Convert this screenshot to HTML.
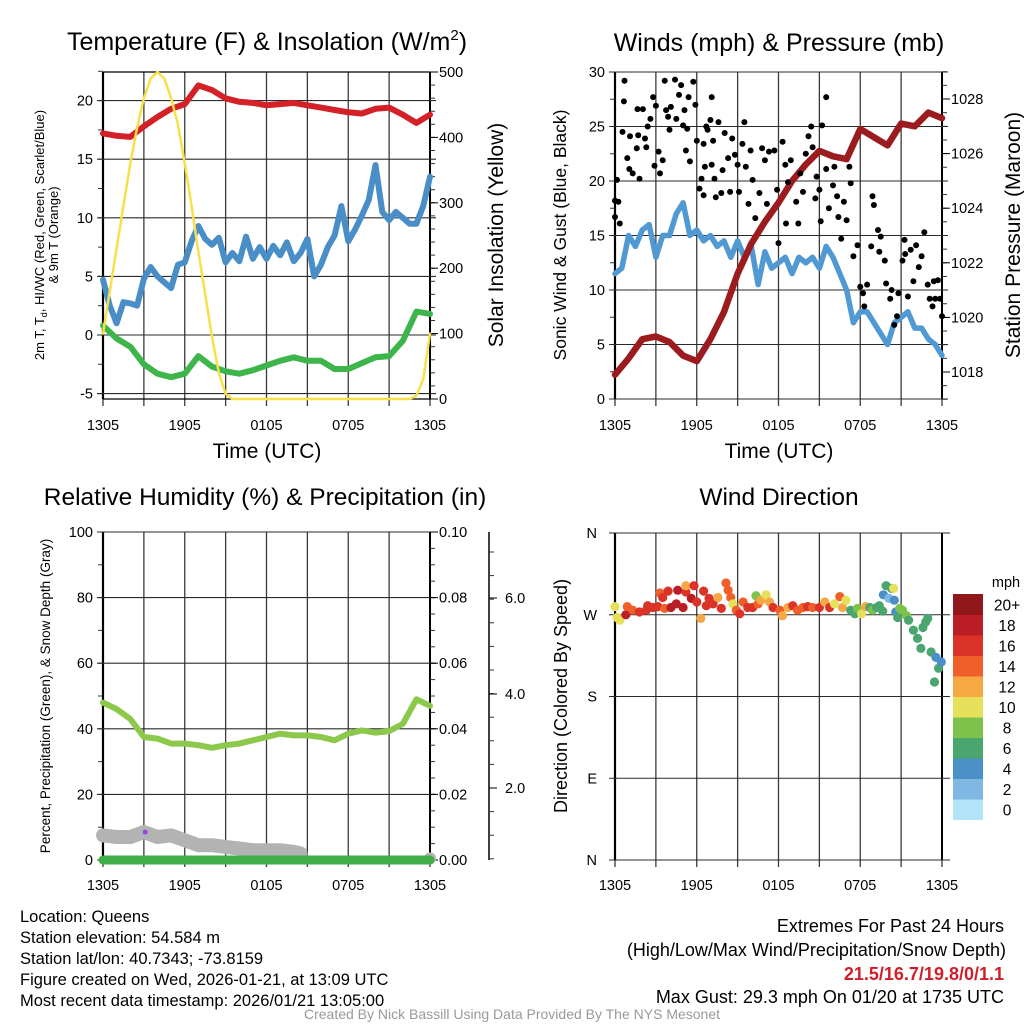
<!DOCTYPE html>
<html><head><meta charset="utf-8">
<style>
html,body{margin:0;padding:0;background:#fff;}
svg{display:block;font-family:"Liberation Sans",Arial,sans-serif;}
</style></head>
<body>
<svg id="chart" width="1024" height="1024" viewBox="0 0 1024 1024" xmlns="http://www.w3.org/2000/svg">
<rect width="1024" height="1024" fill="#fff"/>
<text x="267" y="50" font-size="25" text-anchor="middle">Temperature (F) &amp; Insolation (W/m<tspan dy="-10" font-size="15">2</tspan><tspan dy="10">)</tspan></text>
<text x="779" y="51" font-size="25" text-anchor="middle">Winds (mph) &amp; Pressure (mb)</text>
<text x="265" y="505" font-size="24.5" text-anchor="middle">Relative Humidity (%) &amp; Precipitation (in)</text>
<text x="779" y="505" font-size="24.5" text-anchor="middle">Wind Direction</text>

<text x="267" y="458" font-size="21" text-anchor="middle">Time (UTC)</text>
<text x="779" y="458" font-size="21" text-anchor="middle">Time (UTC)</text>

<text transform="translate(44,235) rotate(-90)" font-size="13" text-anchor="middle">2m T, T<tspan dy="3" font-size="9">d</tspan><tspan dy="-3">, HI/WC (Red, Green, Scarlet/Blue)</tspan></text>
<text transform="translate(58,235) rotate(-90)" font-size="13" text-anchor="middle">&amp; 9m T (Orange)</text>
<text transform="translate(503,235) rotate(-90)" font-size="21" text-anchor="middle">Solar Insolation (Yellow)</text>
<text transform="translate(566,235) rotate(-90)" font-size="17.5" text-anchor="middle">Sonic Wind &amp; Gust (Blue, Black)</text>
<text transform="translate(1020,235) rotate(-90)" font-size="21" text-anchor="middle">Station Pressure (Maroon)</text>
<text transform="translate(50,696) rotate(-90)" font-size="13.5" text-anchor="middle">Percent, Precipitation (Green), &amp; Snow Depth (Gray)</text>
<text transform="translate(567,696) rotate(-90)" font-size="18" text-anchor="middle">Direction (Colored By Speed)</text>

<g font-size="16.5">
<text x="20" y="922">Location: Queens</text>
<text x="20" y="943">Station elevation: 54.584 m</text>
<text x="20" y="964">Station lat/lon: 40.7343; -73.8159</text>
<text x="20" y="985">Figure created on Wed, 2026-01-21, at 13:09 UTC</text>
<text x="20" y="1006">Most recent data timestamp: 2026/01/21 13:05:00</text>
</g>
<g font-size="18" text-anchor="end">
<text x="1004" y="932">Extremes For Past 24 Hours</text>
<text x="1006" y="956">(High/Low/Max Wind/Precipitation/Snow Depth)</text>
<text x="1004" y="980" fill="#d01f2a" font-weight="bold">21.5/16.7/19.8/0/1.1</text>
<text x="1004" y="1003">Max Gust: 29.3 mph On 01/20 at 1735 UTC</text>
</g>
<text x="512" y="1019" font-size="14" fill="#999" text-anchor="middle">Created By Nick Bassill Using Data Provided By The NYS Mesonet</text>
<g id="layer"></g>
</svg>
<script>
// ---------- data ----------
const xTickLabels = ["1305","1905","0105","0705","1305"];
const hourly = [0,1,2,3,4,5,6,7,8,9,10,11,12,13,14,15,16,17,18,19,20,21,22,23,24];
const halfHourly = Array.from({length:49},(_, i)=>i/2);
const tempRed = [17.2,17.0,16.9,17.8,18.6,19.3,19.7,21.3,20.9,20.2,19.9,19.8,19.6,19.7,19.8,19.6,19.4,19.2,19.0,18.9,19.3,19.4,18.8,18.1,18.8];
const dewGreen = [0.8,-0.3,-1.0,-2.5,-3.3,-3.6,-3.3,-1.8,-2.7,-3.1,-3.3,-3.0,-2.6,-2.2,-1.9,-2.2,-2.2,-2.9,-2.9,-2.4,-1.9,-1.8,-0.5,2.0,1.8];
const windChillBlue = [4.7,2.5,1.0,2.8,2.7,2.5,4.8,5.8,5.0,4.5,4.0,6.0,6.2,8.0,9.3,8.2,7.7,8.3,6.2,7.0,6.3,8.4,6.5,7.5,6.5,7.6,6.8,7.9,6.3,7.0,8.2,5.0,6.0,7.5,8.5,11.0,8.0,9.0,10.2,11.5,14.5,10.5,9.8,10.5,10.0,9.5,9.5,11.0,13.5];
const insolation = [100,165,230,295,360,415,460,490,500,490,460,420,360,295,225,160,95,40,8,0,0,0,0,0,0,0,0,0,0,0,0,0,0,0,0,0,0,0,0,0,0,0,0,0,0,0,5,30,100];
const windBlue = [11.5,12,15,14,15.5,16,13,15,15,17,18,15,15.5,14.5,15,14,14.5,13,14.5,13,14,10.5,13.5,12,12.5,13,11.5,13,12.5,13,12,14,13,11.5,10,7,8,8,7,6,5,7,7.5,8,6.5,6.5,5.5,5,4];
const pressure = [1017.9,1018.5,1019.2,1019.3,1019.1,1018.6,1018.4,1019.2,1020.2,1021.6,1022.7,1023.5,1024.2,1025.0,1025.6,1026.1,1025.9,1025.8,1026.9,1026.6,1026.3,1027.1,1027.0,1027.5,1027.3];
const gustHours = [0,0.25,0,0.35,0.15,0.7,0.65,0.55,0.9,1.1,1.05,1.3,1.6,1.8,1.65,2.05,1.7,2.2,2.4,2.3,2.6,2.8,3.0,2.9,3.2,3.3,3.5,3.65,3.75,3.9,4.0,4.1,4.4,4.5,4.7,4.85,5.0,5.2,5.1,5.3,5.4,5.5,5.75,5.9,6.0,6.2,6.35,6.5,6.6,6.5,6.7,6.8,7.0,7.1,7.2,7.1,7.3,7.4,7.6,7.9,7.8,8.05,8.3,8.45,8.6,8.8,9.0,9.1,9.35,9.5,9.6,9.8,9.95,10.1,10.3,10.6,10.8,11.0,11.15,11.3,11.7,11.9,12.0,12.3,12.5,12.7,12.55,12.9,13.3,13.45,13.6,13.8,14.0,14.2,14.4,14.5,14.7,14.8,15.0,15.1,15.2,15.5,15.5,15.7,16.0,16.1,16.3,16.4,16.6,16.8,17.0,17.2,17.3,17.5,17.8,18.0,18.2,18.3,18.5,18.8,18.9,19.0,19.3,19.4,19.5,19.8,19.9,20.2,20.3,20.5,20.7,20.8,21.1,21.25,21.3,21.5,21.7,21.9,22.1,22.3,22.5,22.7,22.95,23.1,23.3,23.4,23.5,23.7,23.85,24.0];
const gustMph = [18.2,18.1,16.7,16.1,20.1,29.2,27.3,24.5,22.1,24.1,21.1,20.7,23.0,20.2,26.6,26.6,24.2,23.9,25.0,23.1,25.7,27.7,26.9,21.4,22.7,20.7,21.9,29.2,26.5,25.9,24.7,26.8,29.3,25.7,27.9,28.8,25.1,22.8,26.5,24.8,27.7,21.8,29.1,27.0,23.7,19.3,20.2,18.7,21.3,23.4,25.0,24.7,25.6,27.7,23.7,21.5,20.2,18.5,25.4,21.0,18.9,24.4,22.1,19.0,23.9,22.4,21.5,19.0,23.4,25.4,21.3,17.9,22.8,20.1,16.6,18.9,23.0,21.9,17.9,22.7,22.8,19.2,14.3,23.6,21.5,19.9,16.1,21.9,18.1,16.1,20.7,19.0,22.5,24.1,25.0,23.1,18.4,20.4,19.2,16.3,25.1,21.1,27.7,17.5,19.6,21.3,18.6,16.7,14.7,18.1,16.4,21.3,19.8,13.1,14.1,10.3,9.7,8.5,10.5,14.0,18.6,17.8,15.5,13.5,14.9,12.7,10.6,9.2,10.0,6.8,7.6,9.7,12.7,14.6,13.3,9.4,13.7,10.8,14.1,12.1,13.1,15.3,10.5,9.2,8.5,10.8,9.2,10.9,9.2,7.6,9.1,8.2,8.9,7.9,7.1,5.0];
const rhHourly = [48,46,43,37.5,37,35.5,35.5,35,34.2,35,35.5,36.5,37.5,38.5,38,38,37.5,36.5,38.5,39.5,38.8,39.3,41.5,49,47];
const snowHours = [0,1,2,3,4,5,6,7,8,9,10,11,12,13,14,14.5];
const snowDepth = [7.5,7,7,8.5,7,7.5,6,4.5,4.5,4,3.5,3,3,3,2.5,2];
const precipHours = [0,24];
const precipValues = [0,0];
const dirHours = [0,0.15,0.35,0.8,0.9,1.3,1.8,2.3,2.4,2.8,3.15,3.3,3.5,3.65,3.9,4.1,4.5,4.6,5.0,5.2,5.2,5.6,5.8,6.0,6.3,6.5,6.7,6.9,7.2,7.55,7.8,8.15,8.3,8.5,8.65,8.9,9.15,9.4,9.75,10.1,10.35,10.5,10.7,11.1,11.35,11.6,12.1,12.3,12.7,13.05,13.4,13.8,14.15,14.5,15.0,15.4,15.75,16.1,16.5,16.7,16.95,17.3,17.6,17.8,18.1,18.4,18.7,18.9,19.2,19.4,19.65,19.7,19.9,20.1,20.3,20.45,20.5,20.6,20.75,20.9,21.1,21.4,21.55,21.9,22.2,22.45,22.6,22.8,22.95,23.2,23.45,23.55,23.75,23.95];
const dirDegrees = [279,267,264,270,279,275,273,275,280,278,279,294,289,277,296,278,282,297,278,295,302,288,302,284,266,296,280,288,282,289,277,305,297,289,282,275,271,284,278,278,291,282,286,292,284,278,275,269,278,280,275,278,279,278,278,284,278,282,290,278,286,275,271,277,271,279,278,275,278,280,274,292,302,288,299,299,286,273,267,277,275,269,264,253,244,233,256,262,266,229,196,223,211,218];
const dirSpeeds = [10,10,10,19,14,14,16,16,17,17,16,14,17,14,16,18,18,18,19,16,12,18,17,17,12,16,16,17,17,13,16,15,15,14,11,15,17,15,16,17,8,15,13,10,12,16,14,13,13,16,14,15,16,14,16,12,16,10,15,13,10,7,7,8,10,13,7,8,7,7,7,4,6,2,6,10,4,5,7,8,8,8,7,6,6,6,7,6,6,6,6,4,6,4];
const speedBinLabels = ["0","2","4","6","8","10","12","14","16","18","20+"];
const speedBinColors = ["#b3e3f7","#7fb9e3","#4a90c6","#4aa56e","#7cc24b","#e6e05a","#f6a844","#ef5f2a","#dc3328","#bb1d24","#8f171a"];

// ---------- helpers ----------
const NS="http://www.w3.org/2000/svg";
const layer=document.getElementById('layer');
function mk(tag,attrs,parent){const e=document.createElementNS(NS,tag);for(const k in attrs)e.setAttribute(k,attrs[k]);(parent||layer).appendChild(e);return e;}
function txt(x,y,s,size,anchor){const e=mk('text',{x:x,y:y,'font-size':size,'text-anchor':anchor});e.textContent=s;return e;}

function panelFrame(p,name){
  const g=mk('g',{});
  
  
  for(let h=0;h<=24;h+=3){
    const x=p.xs(h);
    const l=mk('line',{x1:x,x2:x,y1:p.top,y2:p.bot+7,stroke:'#3a3a3a','stroke-width':1.3},g);
    
    
  }
  xTickLabels.forEach((s,i)=>{
    const t=txt(p.xs(i*6),p.xlabY,s,14.5,'middle');
    
    
  });
  const lb=mk('line',{x1:p.x0,x2:p.x0,y1:p.top,y2:p.bot,stroke:'#000','stroke-width':2.2},g);
  
  
  const rb=mk('line',{x1:p.x1,x2:p.x1,y1:p.top,y2:p.bot,stroke:'#000','stroke-width':2},g);
  
  
}
function yAxis(p,side,scale,majors,minorStep,lo,hi,fmt,name,grid){
  const xa= side==='L'?p.x0:p.x1;
  const dir= side==='L'?-1:1;
  for(let v=lo; v<=hi+1e-9; v+=minorStep){
    const y=scale(v);
    const m=mk('line',{x1:xa,x2:xa+dir*5,y1:y,y2:y,stroke:'#333','stroke-width':1});
    
    
  }
  majors.forEach(v=>{
    const y=scale(v);
    if(grid){
      const gl=mk('line',{x1:p.x0-6,x2:p.x1+6,y1:y,y2:y,stroke:'#2a2a2a','stroke-width':1.1});
      
      
    } else {
      const tk=mk('line',{x1:xa,x2:xa+dir*8,y1:y,y2:y,stroke:'#000','stroke-width':1});
      
      
    }
    const t=txt(side==='L'?xa-10:xa+9,y+5,fmt(v),14.5,side==='L'?'end':'start');
    
    
  });
}
function line(xsArr,ysArr,p,scale,color,w,name){
  const pts=xsArr.map((h,i)=>p.xs(h).toFixed(1)+','+scale(ysArr[i]).toFixed(1)).join(' ');
  const e=mk('polyline',{points:pts,fill:'none',stroke:color,'stroke-width':w,'stroke-linejoin':'round','stroke-linecap':'round'});
  
  
  return e;
}
function mkPanel(x0,x1,top,bot,xlabY){return {x0,x1,top,bot,xlabY,xs:h=>x0+h*(x1-x0)/24};}

// ---------- panel 1: temperature ----------
const P1=mkPanel(103,430,72,399,430);
const yT=v=>335-v*11.72, yS=v=>399-v*0.654;
panelFrame(P1,'temperature');
yAxis(P1,'L',yT,[-5,0,5,10,15,20],2.5,-5,22.5,v=>String(v),'temperature-axis',true);
yAxis(P1,'R',yS,[0,100,200,300,400,500],20,0,500,v=>String(v),'insolation-axis',false);
mk('line',{x1:103,x2:430,y1:72,y2:72,stroke:'#000','stroke-width':1.2});
mk('line',{x1:103,x2:430,y1:399,y2:399,stroke:'#000','stroke-width':1.2});
line(hourly,tempRed,P1,yT,'#d42128',6,'temperature-line-red');
line(halfHourly,windChillBlue,P1,yT,'#4a8ec8',6,'windchill-line-blue');
line(hourly,dewGreen,P1,yT,'#3db54a',6,'dewpoint-line-green');
line(halfHourly,insolation,P1,yS,'#f7e04a',2.5,'insolation-line-yellow');

// ---------- panel 2: winds ----------
const P2=mkPanel(615,942,72,399,430);
const yW=v=>399-v*10.9, yP=v=>372-(v-1018)*27.3;
panelFrame(P2,'winds');
yAxis(P2,'L',yW,[0,5,10,15,20,25,30],2.5,0,30,v=>String(v),'wind-axis',true);
yAxis(P2,'R',yP,[1018,1020,1022,1024,1026,1028],0.5,1017,1029,v=>String(v),'pressure-axis',false);
line(halfHourly,windBlue,P2,yW,'#5199d3',5.5,'wind-speed-line-blue');
line(hourly,pressure,P2,yP,'#9b1b1f',6.5,'pressure-line-maroon');
gustHours.forEach((h,i)=>{
  const c=mk('circle',{cx:P2.xs(h).toFixed(1),cy:yW(gustMph[i]).toFixed(1),r:3,fill:'#000'});
  
  
});

// ---------- panel 3: humidity ----------
const P3=mkPanel(103,430,532,860,890);
const yH=v=>860-v*3.28, yPr=v=>860-v*3280;
panelFrame(P3,'humidity');
yAxis(P3,'L',yH,[0,20,40,60,80,100],10,0,100,v=>String(v),'humidity-axis',true);
yAxis(P3,'R',yPr,[0,0.02,0.04,0.06,0.08,0.10],0.005,0,0.1,v=>v.toFixed(2),'precip-axis',false);
const snowAx=mk('line',{x1:489,x2:489,y1:532,y2:860,stroke:'#000','stroke-width':1.5});


for(let y=552;y<=860;y+=23.6){
  const t=mk('line',{x1:489,x2:494,y1:y,y2:y,stroke:'#333','stroke-width':1});
  
  
}
[["6.0",598],["4.0",694],["2.0",788]].forEach(([s,y])=>{
  const t=mk('line',{x1:489,x2:497,y1:y,y2:y,stroke:'#000','stroke-width':1});
  
  
  const l=txt(505,y+5,s,14.5,'start');
  
  
});
line(snowHours,snowDepth,P3,yH,'#b3b3b3',14,'snow-depth-line-gray');
const snowEnd=mk('circle',{cx:P3.xs(24),cy:yH(0.5),r:6,fill:'#b3b3b3'});


line(precipHours,precipValues,P3,yPr,'#3fae49',9,'precipitation-line-green');
line(hourly,rhHourly,P3,yH,'#8cc84b',6,'humidity-line');
const pd=mk('circle',{cx:P3.xs(3.1),cy:yH(8.5),r:2.5,fill:'#a040e0'});



// ---------- panel 4: wind direction ----------
const P4=mkPanel(615,942,533,860,890);
const yD=v=>860-v*(327/360);
panelFrame(P4,'wind-direction');
const dirLabels=["N","E","S","W","N"];
[0,90,180,270,360].forEach((d,i)=>{
  const y=yD(d);
  const gl=mk('line',{x1:P4.x0-6,x2:P4.x1+8,y1:y,y2:y,stroke:'#2a2a2a','stroke-width':1.1});
  
  
  const t=txt(597,y+5,dirLabels[i],14.5,'end');
  
  
});
dirHours.forEach((h,i)=>{
  const bin=Math.min(10,Math.floor(dirSpeeds[i]/2));
  const c=mk('circle',{cx:P4.xs(h).toFixed(1),cy:yD(dirDegrees[i]).toFixed(1),r:4.6,fill:speedBinColors[bin]});
  
  
});
// colorbar
const cbTop=594, cbH=20.5;
const cbT=txt(1006,587,'mph',14.5,'middle');


speedBinLabels.forEach((s,i)=>{
  const y=cbTop+(10-i)*cbH;
  const r=mk('rect',{x:953,y:y,width:30,height:cbH+0.5,fill:speedBinColors[i]});
  
  
  const t=txt(1007,y+cbH/2+6,s,15.5,'middle');
  
  
});
</script>
</body></html>
